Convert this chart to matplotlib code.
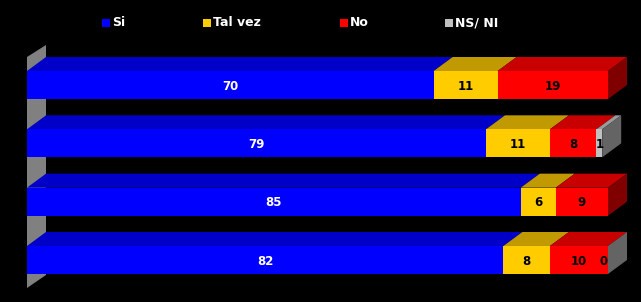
import numpy as np
import matplotlib
matplotlib.use("Agg")
import matplotlib.pyplot as plt
from matplotlib.patches import Polygon

categories = ["Si", "Tal vez", "No", "NS/ NI"]
si = [70, 79, 85, 82]
talvez = [11, 11, 6, 8]
no = [19, 8, 9, 10]
nsni = [np.nan, 1, np.nan, 0]

front_colors = ["#0000FF", "#FFCC00", "#FF0000", "#C0C0C0"]
top_colors = ["#0000C8", "#C09A00", "#C80000", "#9A9A9A"]
side_colors = ["#00008C", "#806600", "#800000", "#646464"]
label_colors = ["white", "black", "black", "black"]

W, H = 641, 302
fig = plt.figure(figsize=(W / 100, H / 100), dpi=100, facecolor="black")
px0, px100 = 27, 608
ax = fig.add_axes([px0 / W, 0, (px100 - px0) / W, 1])
ax.set_facecolor("black")
ppu_x = (px100 - px0) / 100.0
c0_pix, step_pix = 85, 58.33
ax.set_xlim(0, 100)
ax.set_ylim((H - c0_pix) / step_pix, (0 - c0_pix) / step_pix)
ax.axis("off")

dx = 19 / ppu_x
dy = 14 / step_pix
h = 14 / step_pix

# left gray wall
wall_top = (57 - c0_pix) / step_pix
wall_bot = (288 - c0_pix) / step_pix
ax.add_patch(Polygon([(0, wall_top), (dx, wall_top - dy * 12 / 14), (dx, wall_bot - dy * 13 / 14), (0, wall_bot)],
                     closed=True, facecolor="#808080", edgecolor="none", zorder=1, clip_on=False))

series = [si, talvez, no, nsni]
n = len(si)
for i in range(n):
    c = i
    left = 0.0
    last_idx = None
    for k, s in enumerate(series):
        v = s[i]
        if v is None or (isinstance(v, float) and np.isnan(v)):
            continue
        a, b = left, left + v
        ax.barh(c, v, left=a, height=2 * h, color=front_colors[k], edgecolor="none", zorder=3, clip_on=False)
        if v > 0:
            ax.add_patch(Polygon([(a, c - h), (b, c - h), (b + dx, c - h - dy), (a + dx, c - h - dy)],
                                 closed=True, facecolor=top_colors[k], edgecolor="none", zorder=2, clip_on=False))
        xm = (a + b) / 2 if v > 0 else b - 0.8
        ax.text(xm, c + 0.02, f"{int(v)}", ha="center", va="center", color=label_colors[k],
                fontsize=8.5, fontweight="bold", zorder=5)
        left = b
        last_idx = k
    ax.add_patch(Polygon([(left, c - h), (left + dx, c - h - dy), (left + dx, c + h - dy), (left, c + h)],
                         closed=True, facecolor=side_colors[last_idx], edgecolor="none", zorder=2, clip_on=False))

# legend
leg_x = [102, 203, 340, 445]
leg_y = 23
for k, name in enumerate(categories):
    fig.patches.append(plt.Rectangle(((leg_x[k]) / W, (H - leg_y - 4) / H), 8 / W, 8 / H,
                                     transform=fig.transFigure, facecolor=front_colors[k],
                                     edgecolor="none", figure=fig))
    fig.text((leg_x[k] + 10) / W, (H - leg_y) / H, name, color="white", fontsize=9,
             fontweight="bold", ha="left", va="center")

fig.savefig("out.png", dpi=100, facecolor="black")
